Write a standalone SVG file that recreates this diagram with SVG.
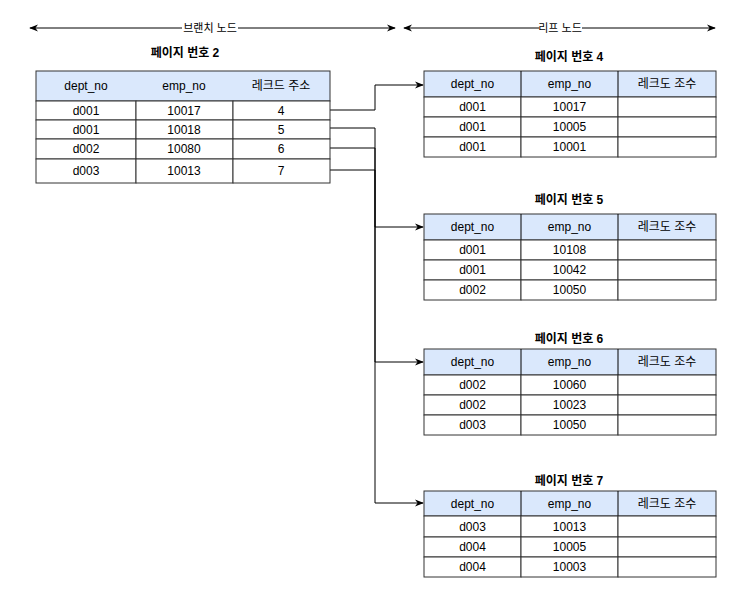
<svg xmlns="http://www.w3.org/2000/svg" width="746" height="597" viewBox="0 0 746 597">
<defs>
<style>
text{font-family:"Liberation Sans","Noto Sans CJK KR",sans-serif;font-size:12px;fill:#000;text-anchor:middle;dominant-baseline:central}
.t{font-weight:bold}
.lab{font-size:11px}
.hd{fill:#dae8fc;stroke:#333;stroke-width:1}
.cell{fill:#fff;stroke:#333;stroke-width:1}
.ln{fill:none;stroke:#000;stroke-width:1}
</style>
<marker id="ah" viewBox="0 0 10 10" refX="9" refY="5" markerWidth="9" markerHeight="9" orient="auto-start-reverse" markerUnits="userSpaceOnUse"><path d="M0,1 L10,5 L0,9 L3,5 Z" fill="#000"/></marker>
</defs>
<rect width="746" height="597" fill="#fff"/>

<g id="labels">
<line class="ln" x1="30" y1="28" x2="395" y2="28" marker-start="url(#ah)" marker-end="url(#ah)"/>
<rect x="182" y="21" width="56" height="14" fill="#fff"/>
<text class="lab" x="210" y="28">브랜치 노드</text>
<line class="ln" x1="404" y1="28" x2="715" y2="28" marker-start="url(#ah)" marker-end="url(#ah)"/>
<rect x="539" y="21" width="43" height="14" fill="#fff"/>
<text class="lab" x="560" y="28">리프 노드</text>
</g>

<g id="connectors">
<path class="ln" d="M330,110 H375 V85 H423" marker-end="url(#ah)"/>
<path class="ln" d="M330,128 H375 V227 H423" marker-end="url(#ah)"/>
<path class="ln" d="M330,148 H375 V362 H423" marker-end="url(#ah)"/>
<path class="ln" d="M330,170 H375 V503 H423" marker-end="url(#ah)"/>
</g>

<g id="branch">
<text class="t" x="185" y="53">페이지 번호 2</text>
<rect class="hd" x="36" y="71" width="294" height="30"/>
<rect class="cell" x="36" y="101" width="100" height="19"/><rect class="cell" x="136" y="101" width="97" height="19"/><rect class="cell" x="233" y="101" width="97" height="19"/>
<rect class="cell" x="36" y="120" width="100" height="19"/><rect class="cell" x="136" y="120" width="97" height="19"/><rect class="cell" x="233" y="120" width="97" height="19"/>
<rect class="cell" x="36" y="139" width="100" height="20"/><rect class="cell" x="136" y="139" width="97" height="20"/><rect class="cell" x="233" y="139" width="97" height="20"/>
<rect class="cell" x="36" y="159" width="100" height="24"/><rect class="cell" x="136" y="159" width="97" height="24"/><rect class="cell" x="233" y="159" width="97" height="24"/>
<text x="86" y="86">dept_no</text><text x="184" y="86">emp_no</text><text x="281" y="86">레크드 주소</text>
<text x="86" y="110.5">d001</text><text x="184" y="110.5">10017</text><text x="281" y="110.5">4</text>
<text x="86" y="129.5">d001</text><text x="184" y="129.5">10018</text><text x="281" y="129.5">5</text>
<text x="86" y="149">d002</text><text x="184" y="149">10080</text><text x="281" y="149">6</text>
<text x="86" y="171">d003</text><text x="184" y="171">10013</text><text x="281" y="171">7</text>
</g>

<g id="leaf4">
<text class="t" x="569" y="57">페이지 번호 4</text>
<rect class="hd" x="424" y="71" width="292" height="26"/>
<line class="ln" x1="521" y1="71" x2="521" y2="97" stroke="#333"/><line class="ln" x1="618" y1="71" x2="618" y2="97" stroke="#333"/>
<rect class="cell" x="424" y="97" width="97" height="20"/><rect class="cell" x="521" y="97" width="97" height="20"/><rect class="cell" x="618" y="97" width="98" height="20"/>
<rect class="cell" x="424" y="117" width="97" height="20"/><rect class="cell" x="521" y="117" width="97" height="20"/><rect class="cell" x="618" y="117" width="98" height="20"/>
<rect class="cell" x="424" y="137" width="97" height="20"/><rect class="cell" x="521" y="137" width="97" height="20"/><rect class="cell" x="618" y="137" width="98" height="20"/>
<text x="472.5" y="84">dept_no</text><text x="569.5" y="84">emp_no</text><text x="667" y="84">레크도 조수</text>
<text x="472.5" y="107">d001</text><text x="569.5" y="107">10017</text>
<text x="472.5" y="127">d001</text><text x="569.5" y="127">10005</text>
<text x="472.5" y="147">d001</text><text x="569.5" y="147">10001</text>
</g>

<g id="leaf5">
<text class="t" x="569" y="200">페이지 번호 5</text>
<rect class="hd" x="424" y="214" width="292" height="26"/>
<line class="ln" x1="521" y1="214" x2="521" y2="240" stroke="#333"/><line class="ln" x1="618" y1="214" x2="618" y2="240" stroke="#333"/>
<rect class="cell" x="424" y="240" width="97" height="20"/><rect class="cell" x="521" y="240" width="97" height="20"/><rect class="cell" x="618" y="240" width="98" height="20"/>
<rect class="cell" x="424" y="260" width="97" height="20"/><rect class="cell" x="521" y="260" width="97" height="20"/><rect class="cell" x="618" y="260" width="98" height="20"/>
<rect class="cell" x="424" y="280" width="97" height="20"/><rect class="cell" x="521" y="280" width="97" height="20"/><rect class="cell" x="618" y="280" width="98" height="20"/>
<text x="472.5" y="227">dept_no</text><text x="569.5" y="227">emp_no</text><text x="667" y="227">레크도 조수</text>
<text x="472.5" y="250">d001</text><text x="569.5" y="250">10108</text>
<text x="472.5" y="270">d001</text><text x="569.5" y="270">10042</text>
<text x="472.5" y="290">d002</text><text x="569.5" y="290">10050</text>
</g>

<g id="leaf6">
<text class="t" x="569" y="339">페이지 번호 6</text>
<rect class="hd" x="424" y="349" width="292" height="26"/>
<line class="ln" x1="521" y1="349" x2="521" y2="375" stroke="#333"/><line class="ln" x1="618" y1="349" x2="618" y2="375" stroke="#333"/>
<rect class="cell" x="424" y="375" width="97" height="20"/><rect class="cell" x="521" y="375" width="97" height="20"/><rect class="cell" x="618" y="375" width="98" height="20"/>
<rect class="cell" x="424" y="395" width="97" height="20"/><rect class="cell" x="521" y="395" width="97" height="20"/><rect class="cell" x="618" y="395" width="98" height="20"/>
<rect class="cell" x="424" y="415" width="97" height="20"/><rect class="cell" x="521" y="415" width="97" height="20"/><rect class="cell" x="618" y="415" width="98" height="20"/>
<text x="472.5" y="362">dept_no</text><text x="569.5" y="362">emp_no</text><text x="667" y="362">레크도 조수</text>
<text x="472.5" y="385">d002</text><text x="569.5" y="385">10060</text>
<text x="472.5" y="405">d002</text><text x="569.5" y="405">10023</text>
<text x="472.5" y="425">d003</text><text x="569.5" y="425">10050</text>
</g>

<g id="leaf7">
<text class="t" x="569" y="481">페이지 번호 7</text>
<rect class="hd" x="424" y="491" width="292" height="25"/>
<line class="ln" x1="521" y1="491" x2="521" y2="516" stroke="#333"/><line class="ln" x1="618" y1="491" x2="618" y2="516" stroke="#333"/>
<rect class="cell" x="424" y="516" width="97" height="21"/><rect class="cell" x="521" y="516" width="97" height="21"/><rect class="cell" x="618" y="516" width="98" height="21"/>
<rect class="cell" x="424" y="537" width="97" height="20"/><rect class="cell" x="521" y="537" width="97" height="20"/><rect class="cell" x="618" y="537" width="98" height="20"/>
<rect class="cell" x="424" y="557" width="97" height="20"/><rect class="cell" x="521" y="557" width="97" height="20"/><rect class="cell" x="618" y="557" width="98" height="20"/>
<text x="472.5" y="503.5">dept_no</text><text x="569.5" y="503.5">emp_no</text><text x="667" y="503.5">레크도 조수</text>
<text x="472.5" y="526.5">d003</text><text x="569.5" y="526.5">10013</text>
<text x="472.5" y="547">d004</text><text x="569.5" y="547">10005</text>
<text x="472.5" y="567">d004</text><text x="569.5" y="567">10003</text>
</g>
</svg>
